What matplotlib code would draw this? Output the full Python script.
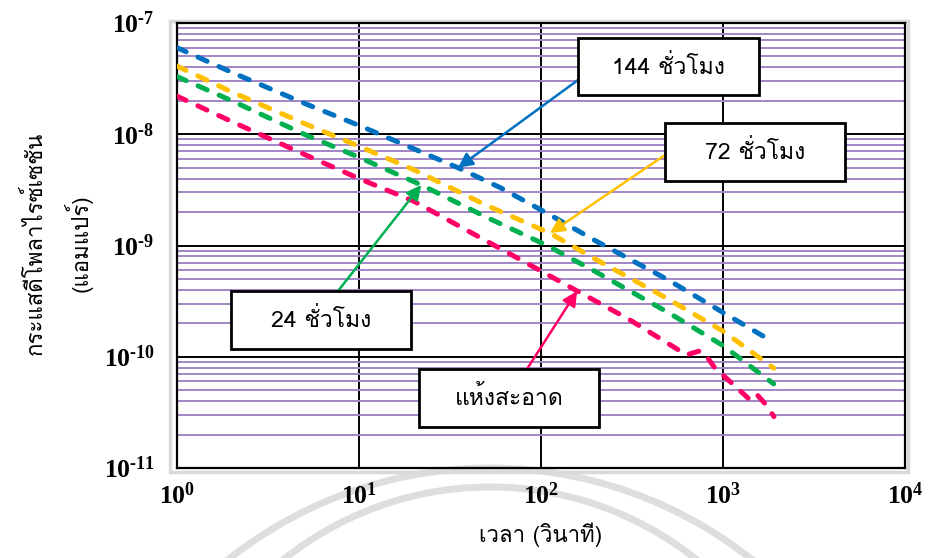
import numpy as np
import matplotlib
matplotlib.use('Agg')
from matplotlib import pyplot as plt
from matplotlib.patches import Rectangle, Arc
from matplotlib.transforms import IdentityTransform

# time (s) and current (A)
t_144 = [1, 2, 5, 10, 20, 35, 60, 108, 200, 500, 1000, 1700]
i_144 = [6.0e-8, 3.6e-8, 1.9e-8, 1.2e-8, 7.4e-9, 5.0e-9, 3.3e-9, 1.95e-9, 1.1e-9, 4.9e-10, 2.5e-10, 1.5e-10]

t_72 = [1, 2, 5, 10, 20, 50, 112, 200, 500, 1000, 1900]
i_72 = [4.1e-8, 2.4e-8, 1.25e-8, 7.8e-9, 4.8e-9, 2.3e-9, 1.29e-9, 7.5e-10, 3.3e-10, 1.7e-10, 7.9e-11]

t_24 = [1, 2, 5, 10, 22, 50, 108, 200, 500, 1000, 1900]
i_24 = [3.3e-8, 2.0e-8, 1.0e-8, 6.2e-9, 3.5e-9, 1.8e-9, 1.0e-9, 5.8e-10, 2.5e-10, 1.26e-10, 5.7e-11]

t_dry = [1, 2, 5, 10, 20, 50, 100, 158, 300, 630, 748, 815, 904, 1117, 1406, 1531, 1700, 1905]
i_dry = [2.2e-8, 1.3e-8, 6.6e-9, 4.0e-9, 2.5e-9, 1.1e-9, 5.9e-10, 3.9e-10, 2.2e-10, 1.04e-10, 1.13e-10, 1.0e-10, 7.9e-11, 5.8e-11, 4.1e-11, 4.6e-11, 3.8e-11, 2.9e-11]

labels = ['144 ชั่วโมง', '72 ชั่วโมง', '24 ชั่วโมง', 'แห้งสะอาด']
colors = ['#0070C0', '#FFC000', '#00B050', '#FF0066']
# where each arrow touches its curve
arrow_t = [35, 112, 22, 158]

xlabel = 'เวลา (วินาที)'
ylabel1 = 'กระแสดีโพลาไรซ์เซชัน'
ylabel2 = '(แอมแปร์)'

fams = ['Loma', 'DejaVu Sans']

plt.rcParams['mathtext.fontset'] = 'custom'
plt.rcParams['mathtext.rm'] = 'Liberation Serif:bold'
plt.rcParams['mathtext.it'] = 'Liberation Serif:bold'
plt.rcParams['mathtext.bf'] = 'Liberation Serif:bold'

W, H = 939, 558
fig = plt.figure(figsize=(W/100, H/100), dpi=100)

# faint watermark arcs behind everything (display pixels)
for r, top in [(420, 468), (330, 487)]:
    fig.patches.append(Arc((490, H-top-r), 2*r, 2*r, theta1=0, theta2=180,
                           transform=IdentityTransform(), color='#DEDEDE', lw=5, zorder=-5))

ax = fig.add_axes([177/W, 1-468/H, 728/W, 445/H])
ax.set_zorder(1)
ax.patch.set_alpha(0)

series = [(t_144, i_144), (t_72, i_72), (t_24, i_24), (t_dry, i_dry)]
for (t, i), c in zip(series, colors):
    ax.plot(t, i, color=c, lw=3.6, dashes=(2.0, 2.6), dash_capstyle='round', zorder=3)

ax.set_xscale('log')
ax.set_yscale('log')
ax.set_xlim(1, 1e4)
ax.set_ylim(1e-11, 1e-7)
ax.set_xticks([1e0, 1e1, 1e2, 1e3, 1e4])
ax.set_xticklabels([r'$10^{%d}$' % k for k in range(0, 5)])
ax.set_yticks([1e-11, 1e-10, 1e-9, 1e-8, 1e-7])
ax.set_yticklabels([r'$10^{\text{-}%d}$' % k for k in range(11, 6, -1)])
ax.yaxis.set_minor_locator(matplotlib.ticker.LogLocator(base=10, subs=np.arange(2, 10)))
ax.yaxis.set_minor_formatter(matplotlib.ticker.NullFormatter())
ax.xaxis.set_minor_locator(matplotlib.ticker.NullLocator())
ax.tick_params(axis='both', which='both', length=0, labelsize=18.5)
ax.tick_params(axis='y', pad=16)
ax.tick_params(axis='x', pad=11)
ax.grid(True, which='minor', axis='y', color='#A385C6', lw=1.4, zorder=1)
ax.grid(True, which='major', color='black', lw=1.4, zorder=2)
for s in ax.spines.values():
    s.set_linewidth(1.6)

ax.set_xlabel(xlabel, family=fams, fontsize=16, labelpad=9)
fig.text(35/W, 1-243/H, ylabel1, family=fams, fontsize=16, rotation=90, ha='center', va='center')
fig.text(78/W, 1-243/H, ylabel2, family=fams, fontsize=16, rotation=90, ha='center', va='center')

# light grey chart border
fig.patches.append(Rectangle((170/W, 1-472/H), 738/W, 451/H, transform=fig.transFigure,
                             fill=False, ec='#D9D9D9', lw=2.5, zorder=0))

# boxes (pixel positions of the reference) and arrow starts
boxes = [(578, 38, 181, 57), (665, 123, 180, 58), (231, 291, 180, 58), (419, 369, 180, 58)]
starts = [(578, 80), (665, 155), (338, 291), (527, 369)]
for lab, c, (bx, by, bw, bh), (sx, sy), ta, (t, i) in zip(labels, colors, boxes, starts, arrow_t, series):
    ya = 10 ** np.interp(np.log10(ta), np.log10(t), np.log10(i))
    ax.annotate('', xy=(ta, ya), xycoords='data',
                xytext=(sx/W, 1-sy/H), textcoords='figure fraction',
                arrowprops=dict(arrowstyle='-|>', color=c, lw=1.8, mutation_scale=22, shrinkA=0, shrinkB=0),
                zorder=5)
    ax.add_patch(Rectangle((bx/W, 1-(by+bh)/H), bw/W, bh/H, transform=fig.transFigure,
                           fc='white', ec='black', lw=2, zorder=6, clip_on=False))
    ax.text((bx+bw/2)/W, 1-(by+bh/2)/H, lab, transform=fig.transFigure, family=fams,
            fontsize=16.5, ha='center', va='center', zorder=7)

fig.savefig('out.png', dpi=100)
